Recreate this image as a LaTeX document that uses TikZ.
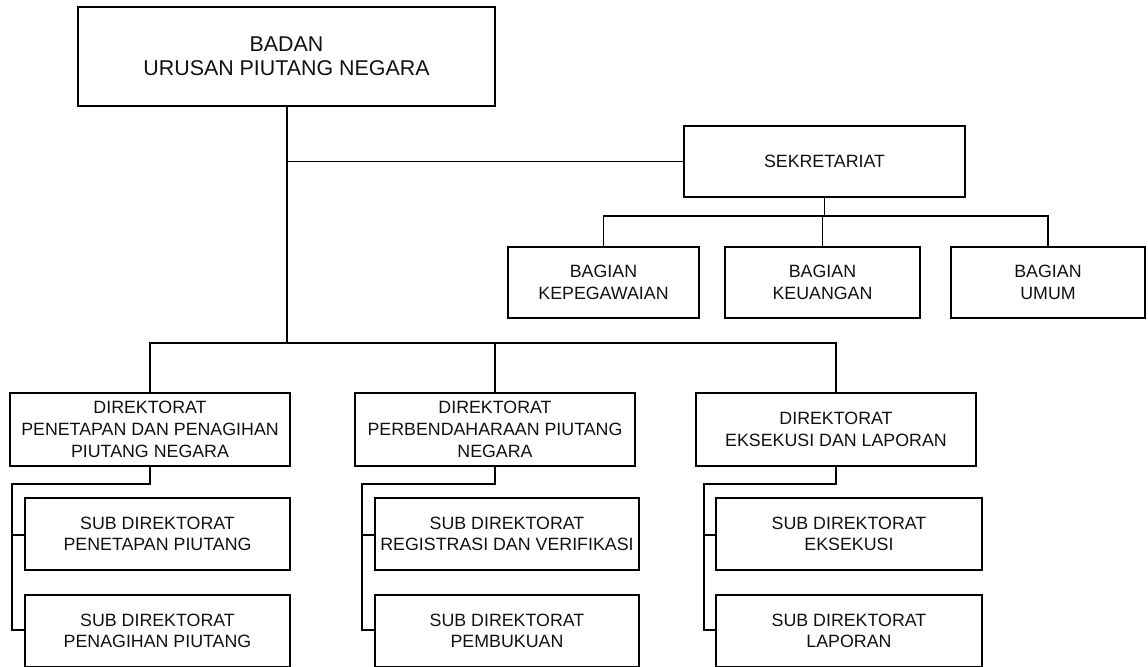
\documentclass[tikz,border=0pt]{standalone}
\usepackage{fontspec}
\setsansfont{Liberation Sans}
\usepackage{tikz}
\usetikzlibrary{positioning}
\definecolor{orgln}{HTML}{000000}
\definecolor{orgtxt}{HTML}{111111}
\tikzset{
  unit/.style    = {draw=orgln, line width=0.65pt, align=center, inner sep=0pt,
                    text=orgtxt, font=\sffamily\fontsize{8.9}{10.85}\selectfont},
  headb/.style   = {unit, minimum width=208.5pt, minimum height=49.5pt,
                    font=\sffamily\fontsize{10.7}{12}\selectfont},
  sekb/.style    = {unit, minimum width=140.5pt, minimum height=35.5pt},
  bagb/.style    = {unit, minimum height=35.5pt},
  dirb/.style    = {unit, minimum width=140pt, minimum height=36.5pt},
  subb/.style    = {unit, minimum height=36pt},
  link/.style    = {draw=orgln, line width=0.65pt},
}

\begin{document}
\begin{tikzpicture}[x=0.5pt,y=0.5pt]
\useasboundingbox (0,0) rectangle (1148,-666);
\clip (0,0) rectangle (1148,-666);

% -- head and secretariat ----------------------------------------------------
\node[headb] (badan) at (286.5,-56.5) {BADAN\\URUSAN PIUTANG NEGARA};
\node[sekb]  (sekr)  at (824.5,-161.5) {SEKRETARIAT};

\node[bagb, minimum width=95.5pt] (bagpeg)   at (603.5,-282.5) {BAGIAN\\KEPEGAWAIAN};
\node[bagb, minimum width=97.5pt] (baguang)  at (822.5,-282.5) {BAGIAN\\KEUANGAN};
\node[bagb, minimum width=97pt]   (bagumum)  at (1048,-282.5)  {BAGIAN\\UMUM};

% -- directorates ------------------------------------------------------------
\node[dirb] (dirtap) at (150,-429.5) {DIREKTORAT\\PENETAPAN DAN PENAGIHAN\\PIUTANG NEGARA};
\node[dirb] (dirben) at (495,-429.5) {DIREKTORAT\\PERBENDAHARAAN PIUTANG\\NEGARA};
\node[dirb] (direks) at (836,-429.5) {DIREKTORAT\\EKSEKUSI DAN LAPORAN};

% -- sub directorates (the lower row runs off the page) ------------------------
\node[subb, minimum width=132.5pt] (subtap)   at (157.5,-534) {SUB DIREKTORAT\\PENETAPAN PIUTANG};
\node[subb, minimum width=132.5pt] (subtagih) at (157.5,-631) {SUB DIREKTORAT\\PENAGIHAN PIUTANG};
\node[subb, minimum width=132pt]   (subreg)   at (507,-534) {SUB DIREKTORAT\\REGISTRASI DAN VERIFIKASI};
\node[subb, minimum width=132pt]   (subbuku)  at (507,-631) {SUB DIREKTORAT\\PEMBUKUAN};
\node[subb, minimum width=133pt]   (subeks)   at (849,-534) {SUB DIREKTORAT\\EKSEKUSI};
\node[subb, minimum width=133pt]   (sublap)   at (849,-631) {SUB DIREKTORAT\\LAPORAN};

% -- junctions ---------------------------------------------------------------
\coordinate (bus)     at (287,-343);
\coordinate (bagbus)  at (824.5,-216);
\coordinate (railtap) at (12,-484);
\coordinate (railben) at (362,-484);
\coordinate (raileks) at (704,-484);

% -- connectors --------------------------------------------------------------
\draw[link] (badan.south -| bus) -- (bus);
\draw[link] (badan.south -| bus) |- (sekr.west);
\draw[link] (sekr.south) -- (bagbus);
\draw[link] (bagpeg.north) |- (bagbus) -| (bagumum.north);
\draw[link] (baguang.north) -- (baguang.north |- bagbus);

\draw[link] (dirtap.north) |- (bus) -| (direks.north);
\draw[link] (dirben.north) -- (dirben.north |- bus);

\draw[link] (dirtap.south) |- (railtap) |- (subtagih.west |- 0,-630);
\draw[link] (subtap.west |- 0,-535) -- (railtap |- 0,-535);
\draw[link] (dirben.south) |- (railben) |- (subbuku.west |- 0,-630);
\draw[link] (subreg.west |- 0,-535) -- (railben |- 0,-535);
\draw[link] (direks.south) |- (raileks) |- (sublap.west |- 0,-630);
\draw[link] (subeks.west |- 0,-535) -- (raileks |- 0,-535);

\end{tikzpicture}
\end{document}
